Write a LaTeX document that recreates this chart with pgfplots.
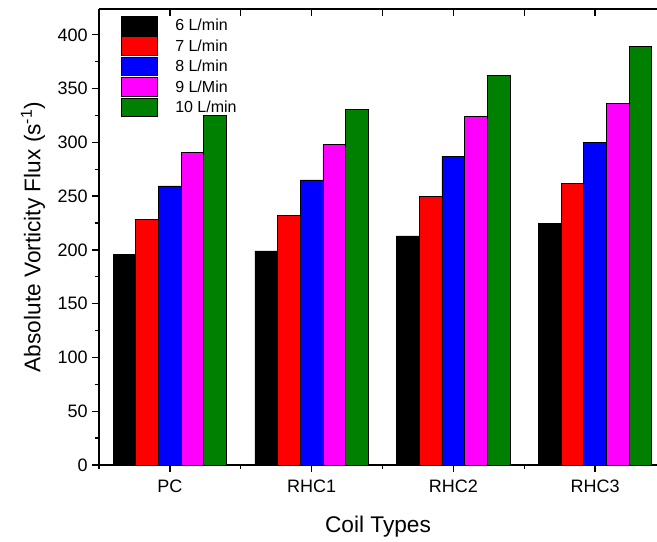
\documentclass[border=0pt]{standalone}
\usepackage{fontspec}
\setmainfont{Liberation Sans}
\usepackage{pgfplots}
\pgfplotsset{compat=1.18}
\definecolor{dgreen}{RGB}{0,128,0}
\definecolor{mag}{RGB}{255,0,255}
\begin{document}
\begin{tikzpicture}
\useasboundingbox (-74.25pt,-57.75pt) rectangle (418.5pt,348.75pt);
\begin{axis}[
  at={(0pt,0pt)}, anchor=south west,
  scale only axis, width=418.5pt, height=342pt,
  xmin=-0.5, xmax=3.437, ymin=0, ymax=424,
  axis x line*=top, axis y line=none,
  xtick={0,1,2,3}, xticklabels={},
  minor xtick={-0.5,0.5,1.5,2.5},
  ytick=\empty,
  tick align=inside,
  major tick length=5pt, minor tick length=5pt,
  every tick/.style={black, line width=1pt},
  axis line style={line width=1.2pt},
]
\end{axis}
\begin{axis}[
  at={(0pt,0pt)}, anchor=south west,
  scale only axis, width=418.5pt, height=342pt,
  xmin=-0.5, xmax=3.437, ymin=0, ymax=424,
  axis x line*=box, axis y line*=left,
  xtick={0,1,2,3}, xticklabels={PC,RHC1,RHC2,RHC3},
  minor xtick={-0.5,0.5,1.5,2.5},
  ytick={0,50,...,400}, minor ytick={25,75,...,375},
  xtick pos=left, ytick pos=left, tick align=outside,
  major tick length=5pt, minor tick length=3pt,
  every tick/.style={black, line width=1pt},
  axis line style={line width=1.2pt},
  ticklabel style={font=\fontsize{13.5}{16}\selectfont},
  /pgf/number format/assume math mode=true,
  xticklabel style={anchor=base, yshift=-16pt},
  xlabel={Coil Types},
  ylabel={Absolute Vorticity Flux (s\textsuperscript{-1})},
  label style={font=\fontsize{17}{20}\selectfont},
  xlabel style={at={(axis description cs:0.5,0)}, anchor=base, yshift=-51pt},
  ylabel style={at={(axis description cs:-0.1183,0.5)}, anchor=center},
  ybar, bar width=0.16,
  legend image code/.code={\draw[#1, line width=0.6pt] (0pt,-6.5pt) rectangle (27pt,7.5pt);},
  legend style={at={(axis description cs:0,1)}, anchor=north west,
    xshift=16.5pt, yshift=-5pt, draw=none, fill=none, inner sep=0pt,
    row sep=0pt, column sep=9.4pt, font=\fontsize{12}{14}\selectfont,
    nodes={inner ysep=0pt, inner xsep=3.5pt, text height=11pt, text depth=4pt}},
  legend cell align=left,
]
\addplot[bar shift=-0.32, fill=black, draw=black, line width=0.6pt]
  coordinates {(0,196) (1,199) (2,213) (3,225)};
\addlegendentry{6 L/min}
\addplot[bar shift=-0.16, fill=red, draw=black, line width=0.6pt]
  coordinates {(0,228) (1,232) (2,250) (3,262)};
\addlegendentry{7 L/min}
\addplot[bar shift=0, fill=blue, draw=black, line width=0.6pt]
  coordinates {(0,259.5) (1,265) (2,287) (3,300)};
\addlegendentry{8 L/min}
\addplot[bar shift=0.16, fill=mag, draw=black, line width=0.6pt]
  coordinates {(0,291) (1,298) (2,324) (3,336)};
\addlegendentry{9 L/Min}
\addplot[bar shift=0.32, fill=dgreen, draw=black, line width=0.6pt]
  coordinates {(0,325) (1,331) (2,362) (3,389)};
\addlegendentry{10 L/min}
\end{axis}
\end{tikzpicture}
\end{document}
